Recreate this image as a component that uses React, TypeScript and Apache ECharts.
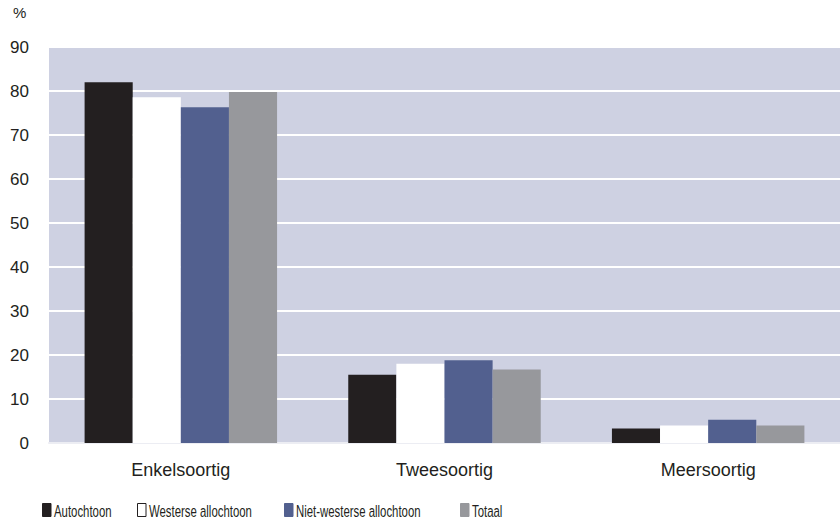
import React, { useEffect, useRef } from "react";
import * as echarts from "echarts";

const categories = ["Enkelsoortig", "Tweesoortig", "Meersoortig"];
const seriesNames = ["Autochtoon", "Westerse allochtoon", "Niet-westerse allochtoon", "Totaal"];
const autochtoon = [82.0, 15.5, 3.3];
const westerse = [78.6, 18.0, 4.0];
const nietWesterse = [76.3, 18.8, 5.3];
const totaal = [79.8, 16.7, 4.0];
const yTicks = { min: 0, max: 90, interval: 10 };

const colors = ["#231F20", "#FFFFFF", "#52608F", "#97989C"];
const legendLefts = [42, 137, 284, 460];

export default function App() {
  const ref = useRef<HTMLDivElement>(null);
  useEffect(() => {
    if (!ref.current) return;
    const chart = echarts.init(ref.current, null, { renderer: "svg" });
    const values = [autochtoon, westerse, nietWesterse, totaal];
    const font = "'Liberation Sans', Arial, sans-serif";
    const legendGraphics: any[] = [];
    seriesNames.forEach((n, i) => {
      legendGraphics.push({
        type: "rect",
        shape: { x: legendLefts[i] + 0.5, y: 503.5, width: 8.5, height: 13 },
        style: {
          fill: colors[i],
          stroke: i === 1 ? "#231F20" : colors[i],
          lineWidth: 1,
        },
      });
      legendGraphics.push({
        type: "text",
        x: legendLefts[i] + 12,
        y: 511,
        scaleX: 0.67,
        style: {
          text: n,
          fontSize: 17,
          fill: "#231F20",
          fontFamily: font,
          verticalAlign: "middle",
          align: "left",
        },
      });
    });
    chart.setOption({
      animation: false,
      textStyle: { fontFamily: font },
      grid: { left: 49, right: 0, top: 47, bottom: 78, backgroundColor: "#CED1E2", show: true, borderWidth: 0 },
      xAxis: {
        type: "category",
        data: categories,
        axisTick: { show: false },
        axisLine: { show: true, lineStyle: { color: "#ECEDF3", width: 2 } },
        axisLabel: { color: "#231F20", fontSize: 18, margin: 18, fontFamily: font },
      },
      yAxis: {
        type: "value",
        min: yTicks.min,
        max: yTicks.max,
        interval: yTicks.interval,
        axisLine: { show: false },
        axisTick: { show: false },
        splitLine: { show: true, lineStyle: { color: "#FFFFFF", width: 2 } },
        axisLabel: { color: "#231F20", fontSize: 17, margin: 20, fontFamily: font },
      },
      graphic: [
        { type: "text", x: 13, y: 5, style: { text: "%", fontSize: 15, fill: "#231F20", fontFamily: font } },
        ...legendGraphics,
      ],
      series: seriesNames.map((n, i) => ({
        name: n,
        type: "bar",
        data: values[i],
        barGap: "0%",
        barCategoryGap: "27%",
        itemStyle: { color: colors[i] },
      })),
    });
    return () => chart.dispose();
  }, []);
  return <div ref={ref} style={{ width: 840, height: 521, position: "absolute", left: 0, top: 0 }} />;
}
